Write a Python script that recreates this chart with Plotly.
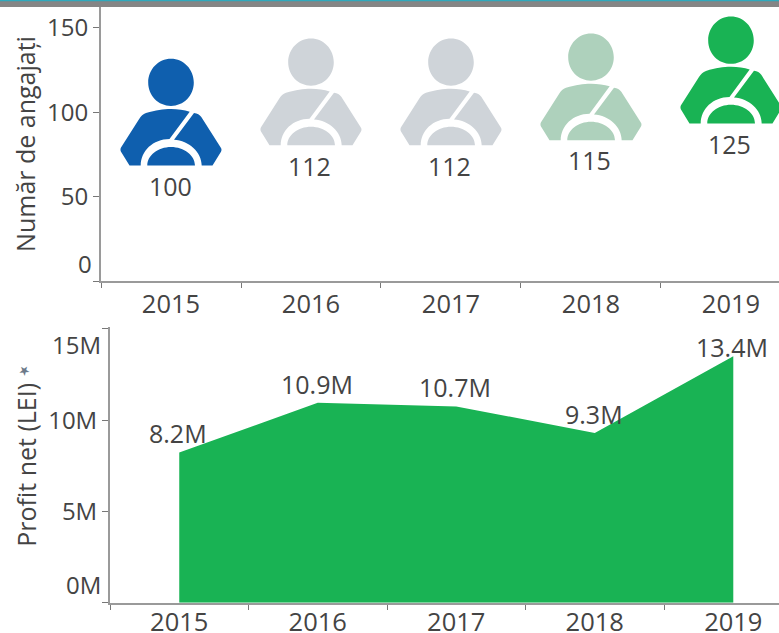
import plotly.graph_objects as go

# ---- data ----
years = ["2015", "2016", "2017", "2018", "2019"]
employees = [100, 112, 112, 115, 125]
icon_colors = ["#0f5fae", "#cfd4d9", "#cfd4d9", "#aed1bc", "#19b354"]
profit = [8.23e6, 10.95e6, 10.75e6, 9.3e6, 13.5e6]
profit_labels = ["8.2M", "10.9M", "10.7M", "9.3M", "13.4M"]
top_ticks = [0, 50, 100, 150]
bottom_ticks = [0, 5e6, 10e6, 15e6]
bottom_tick_labels = ["0M", "5M", "10M", "15M"]

# ---- style ----
W, H = 779, 633
FONT = "Open Sans"
TXT = "#444444"
AXIS = "#9a9a9a"
TICK = "#777777"
TICK_SIZE = 24
VAL_SIZE = 25
X_SIZE = 25.5
TITLE_SIZE = 25

# Driver pictogram, pixel offsets from the anchor at (category, value); y goes up
ICON = (
    "M -22.8,29.7 C -22.8,16.5 -12.6,6.3 0,6.3 C 12.6,6.3 22.8,16.5 22.8,29.7 "
    "C 22.8,43 12.6,53.5 0,53.5 C -12.6,53.5 -22.8,43 -22.8,29.7 Z "
    "M -30.3,-53.3 L -41.5,-53.3 L -50,-39.5 C -50.7,-38 -50.7,-36.5 -50,-35.2 "
    "L -32,-7 C -30,-3.5 -28,-2 -25,-0.8 C -15,2.3 -8,3.3 0,3.3 "
    "C 7,3.3 13,2.5 18.7,0.6 L -1.5,-26.8 C -18,-27 -30.3,-38.7 -30.3,-53.3 Z "
    "M 23,-0.7 C 26.5,-1 28.5,-2.5 30.3,-4.7 L 49.7,-35.2 C 50.7,-36.5 50.7,-38 50,-39.5 "
    "L 41.5,-53.3 L 30.7,-53.3 C 30.7,-40 18,-28.5 3,-27.5 Z "
    "M -23.7,-53.3 C -23.7,-43 -13,-34.7 0,-34.7 C 13,-34.7 24,-43 24,-53.3 Z"
)

fig = go.Figure()

fig.add_trace(go.Scatter(
    x=years, y=employees, mode="markers", xaxis="x", yaxis="y",
    marker=dict(size=8, opacity=0), showlegend=False,
))
fig.add_trace(go.Scatter(
    x=years, y=profit, mode="lines", xaxis="x2", yaxis="y2",
    line=dict(width=0, color="#19b354"), fill="tozeroy", fillcolor="#19b354",
    showlegend=False,
))

shapes = [
    dict(type="rect", xref="paper", yref="paper", x0=0, x1=1, y0=1 - 7 / H, y1=1,
         fillcolor="#858585", line_width=0, layer="above"),
    dict(type="rect", xref="paper", yref="paper", x0=0, x1=1, y0=1 - 1.3 / H, y1=1,
         fillcolor="#2fa9bd", line_width=0, layer="above"),
]
# Numeric-looking category names are read as numbers in anchors, so use the index
for i, (value, color) in enumerate(zip(employees, icon_colors)):
    shapes.append(dict(
        type="path", xref="x", yref="y", xsizemode="pixel", ysizemode="pixel",
        xanchor=i, yanchor=value, path=ICON, fillcolor=color,
        line_width=0, layer="above",
    ))

annotations = []
for i, value in enumerate(employees):
    annotations.append(dict(
        x=i, y=value, xref="x", yref="y", text=str(value), showarrow=False,
        xshift=-1, yshift=-73.5, font=dict(family=FONT, size=VAL_SIZE, color=TXT),
    ))
for i, (value, label) in enumerate(zip(profit, profit_labels)):
    annotations.append(dict(
        x=i, y=value, xref="x2", yref="y2", text=label, showarrow=False,
        xshift=-1, yshift=9 if i == 4 else 19,
        font=dict(family=FONT, size=VAL_SIZE, color=TXT),
    ))
# Edge tick labels sit above their tick marks
annotations.append(dict(
    x=0, y=0, xref="x domain", yref="y", text="0", showarrow=False,
    xanchor="right", xshift=-7, yshift=18,
    font=dict(family=FONT, size=TICK_SIZE, color=TXT),
))
annotations.append(dict(
    x=0, y=0, xref="x2 domain", yref="y2", text="0M", showarrow=False,
    xanchor="right", xshift=-7, yshift=18,
    font=dict(family=FONT, size=TICK_SIZE, color=TXT),
))
annotations.append(dict(
    x=0, y=15e6, xref="x2 domain", yref="y2", text="15M", showarrow=False,
    xanchor="right", xshift=-7, yshift=-16,
    font=dict(family=FONT, size=TICK_SIZE, color=TXT),
))
# Pin beside the profit axis title
annotations.append(dict(
    x=24 / W, y=1 - 370 / H, xref="paper", yref="paper", text="★", showarrow=False,
    xanchor="center", yanchor="middle", textangle=-40,
    font=dict(family="DejaVu Sans", size=13, color="#6d7a8a"),
))

x_common = dict(
    type="category", categoryorder="array", categoryarray=years, automargin=False,
    tickson="boundaries", ticks="outside", ticklen=5, tickwidth=1, tickcolor=TICK,
    showline=True, linecolor=AXIS, linewidth=2, showgrid=False, zeroline=False,
    tickfont=dict(family=FONT, size=X_SIZE, color=TXT),
)
y_common = dict(
    automargin=False,
    ticks="outside", ticklen=6, tickwidth=1, tickcolor=TICK,
    showline=True, linecolor=AXIS, linewidth=2, showgrid=False, zeroline=False,
    tickfont=dict(family=FONT, size=TICK_SIZE, color=TXT),
)

fig.update_layout(
    width=W, height=H, autosize=False,
    margin=dict(l=0, r=0, t=0, b=0, pad=0, autoexpand=False),
    paper_bgcolor="white", plot_bgcolor="white", showlegend=False,
    hovermode=False,
    shapes=shapes, annotations=annotations,
    xaxis=dict(x_common, domain=[101 / W, 1], range=[-0.5, 4.343], anchor="y",
               ticklabelstandoff=-1),
    yaxis=dict(
        y_common, domain=[1 - 281 / H, 1 - 7 / H], range=[0, 162.4], anchor="x",
        tickvals=top_ticks, ticktext=["", "50", "100", "150"],
        title=dict(text="Număr de angajați", standoff=4,
                   font=dict(family=FONT, size=TITLE_SIZE, color=TXT)),
    ),
    xaxis2=dict(x_common, domain=[110 / W, 1], range=[-0.5, 4.33], anchor="y2",
                ticklabelstandoff=-4),
    yaxis2=dict(
        y_common, domain=[1 - 602.7 / H, 1 - 327 / H], range=[0, 15.1e6], anchor="x2",
        tickvals=bottom_ticks, ticktext=["", "5M", "10M", ""],
        title=dict(text="Profit net (LEI)", standoff=4,
                   font=dict(family=FONT, size=TITLE_SIZE, color=TXT)),
    ),
)

fig.write_html("out.html", post_script="document.body.style.margin='0';",
               config=dict(displayModeBar=False))
